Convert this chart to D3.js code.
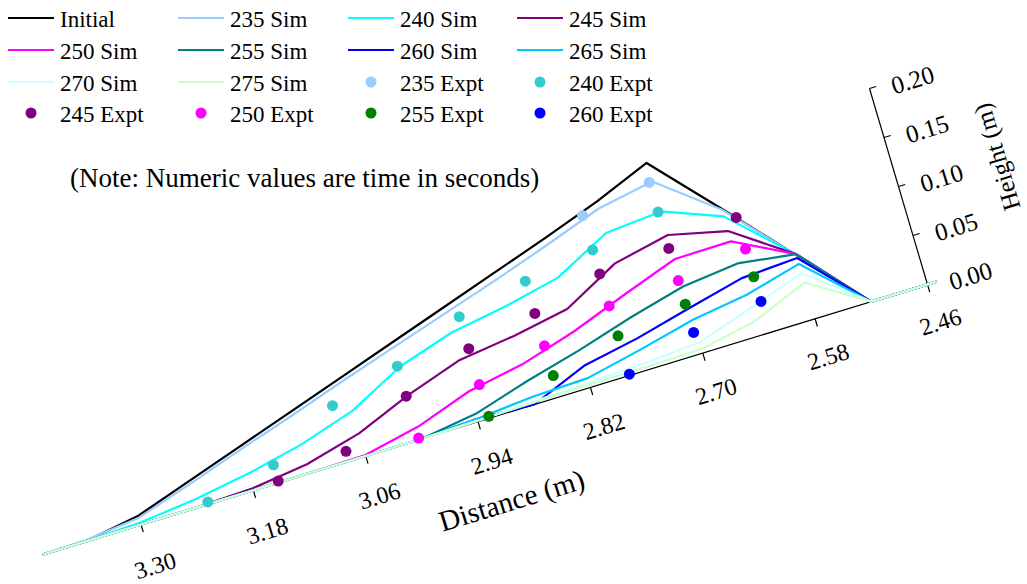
<!DOCTYPE html>
<html>
<head>
<meta charset="utf-8">
<script src="https://cdn.jsdelivr.net/npm/d3@7"></script>
<style>
  html, body { margin: 0; padding: 0; background: #ffffff; }
  svg { display: block; }
  text { font-family: "Liberation Serif", "Times New Roman", serif; fill: #000; }
</style>
</head>
<body>
<svg id="chart" width="1027" height="584"></svg>
<script>
// ---- data -------------------------------------------------------------
// stations along the channel (m) where the simulated profiles are sampled
const simDistance = [3.405, 3.36, 3.30, 3.24, 3.18, 3.12, 3.06, 3.00, 2.94, 2.88, 2.82, 2.76, 2.70, 2.64, 2.58, 2.52, 2.45];

// embankment height (m) at each station
const initialHeight = [0, 0, 0.009, 0.027, 0.045, 0.063, 0.081, 0.099, 0.117, 0.135, 0.153, 0.172, 0.194, 0.130, 0.065, 0, 0];
const sim235 = [0, 0.001, 0.007, 0.024, 0.042, 0.059, 0.077, 0.094, 0.111, 0.128, 0.146, 0.165, 0.175, 0.129, 0.065, 0, 0];
const sim240 = [0, 0, 0.002, 0.008, 0.017, 0.029, 0.046, 0.074, 0.091, 0.100, 0.112, 0.140, 0.1445, 0.122, 0.066, 0, 0];
const sim245 = [0, 0, 0, 0, 0.002, 0.009, 0.023, 0.045, 0.063, 0.070, 0.080, 0.109, 0.1205, 0.107, 0.066, 0, 0];
const sim250 = [0, 0, 0, 0, 0, 0, 0.001, 0.0125, 0.031, 0.041, 0.057, 0.077, 0.096, 0.0965, 0.066, 0, 0];
const sim255 = [0, 0, 0, 0, 0, 0, 0, 0, 0.008, 0.024, 0.038, 0.054, 0.068, 0.074, 0.066, 0, 0];
const sim260 = [0, 0, 0, 0, 0, 0, 0, 0, 0.003, 0, 0.022, 0.0325, 0.046, 0.059, 0.062, 0, 0];
const sim265 = [0, 0, 0, 0, 0, 0, 0, 0, 0.003, 0.0076, 0.0094, 0.021, 0.034, 0.042, 0.056, 0, 0];
const sim270 = [0, 0, 0, 0, 0, 0, 0, 0, 0.001, 0.003, 0.005, 0.007, 0.011, 0.0285, 0.0465, 0, 0];
const sim275 = [0, 0, 0, 0, 0, 0, 0, 0, 0.001, 0.002, 0.003, 0.003, 0.004, 0.015, 0.037, 0, 0];

// measured profiles: distance (m) and height (m)
const expt235Distance = [2.778, 2.703];
const expt235Height = [0.163, 0.175];
const expt240Distance = [3.228, 3.153, 3.078, 3.003, 2.928, 2.853, 2.778, 2.703];
const expt240Height = [0.002, 0.018, 0.0565, 0.075, 0.1036, 0.118, 0.128, 0.1447];
const expt245Distance = [3.153, 3.078, 3.003, 2.928, 2.853, 2.778, 2.703, 2.628];
const expt245Height = [0.0015, 0.0099, 0.0443, 0.0709, 0.0851, 0.1035, 0.1076, 0.1174];
const expt250Distance = [3.003, 2.928, 2.853, 2.778, 2.703, 2.628];
const expt250Height = [0.0016, 0.0343, 0.052, 0.0708, 0.0748, 0.0851];
const expt255Distance = [2.928, 2.853, 2.778, 2.703, 2.628];
const expt255Height = [0.0019, 0.0216, 0.0404, 0.0508, 0.0569];
const expt260Distance = [2.778, 2.703, 2.628];
const expt260Height = [0.0012, 0.0219, 0.0317];

// axis ticks
const distanceTicks = [3.30, 3.18, 3.06, 2.94, 2.82, 2.70, 2.58, 2.46];
const heightTicks = [0.00, 0.05, 0.10, 0.15, 0.20];

const simSeries = [
  { name: "Initial", color: "#000000", values: initialHeight },
  { name: "235 Sim", color: "#99ccff", values: sim235 },
  { name: "240 Sim", color: "#00ffff", values: sim240 },
  { name: "245 Sim", color: "#800080", values: sim245 },
  { name: "250 Sim", color: "#ff00ff", values: sim250 },
  { name: "255 Sim", color: "#008080", values: sim255 },
  { name: "260 Sim", color: "#0000ff", values: sim260 },
  { name: "265 Sim", color: "#00c8ff", values: sim265 },
  { name: "270 Sim", color: "#ccffff", values: sim270 },
  { name: "275 Sim", color: "#ccffcc", values: sim275 }
];
const exptSeries = [
  { name: "235 Expt", color: "#99ccff", d: expt235Distance, h: expt235Height },
  { name: "240 Expt", color: "#33cccc", d: expt240Distance, h: expt240Height },
  { name: "245 Expt", color: "#800080", d: expt245Distance, h: expt245Height },
  { name: "250 Expt", color: "#ff00ff", d: expt250Distance, h: expt250Height },
  { name: "255 Expt", color: "#008000", d: expt255Distance, h: expt255Height },
  { name: "260 Expt", color: "#0000ff", d: expt260Distance, h: expt260Height }
];

// ---- oblique projection ------------------------------------------------
// the distance axis runs up-right across the page, the height axis leans back
const xDist = d3.scaleLinear().domain([3.30, 2.46]).range([141, 927.5]);
const yDist = d3.scaleLinear().domain([3.30, 2.46]).range([524.5, 284.5]);
const xRise = d3.scaleLinear().domain([0, 0.2]).range([0, -58]);
const yRise = d3.scaleLinear().domain([0, 0.2]).range([0, -196]);
const project = (d, h) => [xDist(d) + xRise(h), yDist(d) + yRise(h)];

const tiltDeg = Math.atan2(yDist(2.46) - yDist(3.30), xDist(2.46) - xDist(3.30)) * 180 / Math.PI;
const riseVec = [xRise(0.2) - xRise(0), yRise(0.2) - yRise(0)];
const riseLen = Math.hypot(riseVec[0], riseVec[1]);
const riseUnit = [riseVec[0] / riseLen, riseVec[1] / riseLen];
const runUnit = [Math.cos(tiltDeg * Math.PI / 180), Math.sin(tiltDeg * Math.PI / 180)];

// labels sit slightly closer to the axis at the far (right) end
const labelGap = d3.scaleLinear().domain([3.30, 2.46]).range([43, 39]);

const svg = d3.select("#chart");

// ---- distance axis -----------------------------------------------------
const axisG = svg.append("g");
const a0 = project(3.405, 0), a1 = project(2.46, 0);
axisG.append("line")
  .attr("x1", a0[0]).attr("y1", a0[1]).attr("x2", a1[0]).attr("y2", a1[1])
  .attr("stroke", "#000").attr("stroke-width", 1.2);
distanceTicks.forEach(d => {
  const p = project(d, 0);
  axisG.append("line")
    .attr("x1", p[0]).attr("y1", p[1])
    .attr("x2", p[0] - riseUnit[0] * 8).attr("y2", p[1] - riseUnit[1] * 8)
    .attr("stroke", "#000").attr("stroke-width", 1.2);
  const g = labelGap(d);
  const lx = p[0] - riseUnit[0] * g + 2, ly = p[1] - riseUnit[1] * g;
  axisG.append("text")
    .attr("transform", `translate(${lx},${ly}) rotate(${tiltDeg})`)
    .attr("text-anchor", "middle").attr("dominant-baseline", "central")
    .style("font-size", "24px")
    .text(d3.format(".2f")(d));
});
{
  const p = project(2.93, 0);
  const lx = p[0] - riseUnit[0] * 85, ly = p[1] - riseUnit[1] * 85;
  axisG.append("text")
    .attr("transform", `translate(${lx},${ly}) rotate(${tiltDeg})`)
    .attr("text-anchor", "middle").attr("dominant-baseline", "central")
    .style("font-size", "29px")
    .text("Distance (m)");
}

// ---- height axis -------------------------------------------------------
const h0 = project(2.46, 0), h1 = project(2.46, 0.2);
axisG.append("line")
  .attr("x1", h0[0]).attr("y1", h0[1]).attr("x2", h1[0]).attr("y2", h1[1])
  .attr("stroke", "#000").attr("stroke-width", 1.2);
heightTicks.forEach(h => {
  const p = project(2.46, h);
  axisG.append("line")
    .attr("x1", p[0]).attr("y1", p[1])
    .attr("x2", p[0] + runUnit[0] * 7).attr("y2", p[1] + runUnit[1] * 7)
    .attr("stroke", "#000").attr("stroke-width", 1.2);
  const lx = p[0] + runUnit[0] * 43 + 2, ly = p[1] + runUnit[1] * 43 + 4;
  axisG.append("text")
    .attr("transform", `translate(${lx},${ly}) rotate(${tiltDeg})`)
    .attr("text-anchor", "middle").attr("dominant-baseline", "central")
    .style("font-size", "25px")
    .text(d3.format(".2f")(h));
});
{
  const ang = Math.atan2(riseVec[1], riseVec[0]) * 180 / Math.PI;
  axisG.append("text")
    .attr("transform", `translate(997,157) rotate(${ang})`)
    .attr("text-anchor", "middle").attr("dominant-baseline", "central")
    .style("font-size", "25px")
    .text("Height (m)");
}

// ---- simulated profiles ------------------------------------------------
const line = d3.line()
  .x((v, i) => project(simDistance[i], v)[0])
  .y((v, i) => project(simDistance[i], v)[1]);
svg.append("g").selectAll("path").data(simSeries).join("path")
  .attr("d", s => line(s.values))
  .attr("fill", "none")
  .attr("stroke", s => s.color)
  .attr("stroke-width", 2.2)
  .attr("stroke-linejoin", "round");

// ---- measured profiles -------------------------------------------------
exptSeries.forEach(s => {
  svg.append("g").selectAll("circle").data(s.d).join("circle")
    .attr("cx", (d, i) => project(d, s.h[i])[0])
    .attr("cy", (d, i) => project(d, s.h[i])[1])
    .attr("r", 5.5)
    .attr("fill", s.color);
});

// ---- legend ------------------------------------------------------------
const legendItems = simSeries.map(s => ({ name: s.name, color: s.color, kind: "line" }))
  .concat(exptSeries.map(s => ({ name: s.name, color: s.color, kind: "dot" })));
const colX = [8, 178, 348, 517];
const rowY = [18, 50, 82, 113];
const legend = svg.append("g");
legendItems.forEach((it, i) => {
  const cx = colX[i % 4], cy = rowY[Math.floor(i / 4)];
  if (it.kind === "line") {
    legend.append("line").attr("x1", cx).attr("x2", cx + 46).attr("y1", cy).attr("y2", cy)
      .attr("stroke", it.color).attr("stroke-width", 2.2);
  } else {
    legend.append("circle").attr("cx", cx + 23).attr("cy", cy).attr("r", 5.5).attr("fill", it.color);
  }
  legend.append("text").attr("x", cx + 52).attr("y", cy + 1).attr("dominant-baseline", "central")
    .style("font-size", "23px").text(it.name);
});

svg.append("text").attr("x", 70).attr("y", 178).attr("dominant-baseline", "central")
  .style("font-size", "27px").text("(Note: Numeric values are time in seconds)");
</script>
</body>
</html>
